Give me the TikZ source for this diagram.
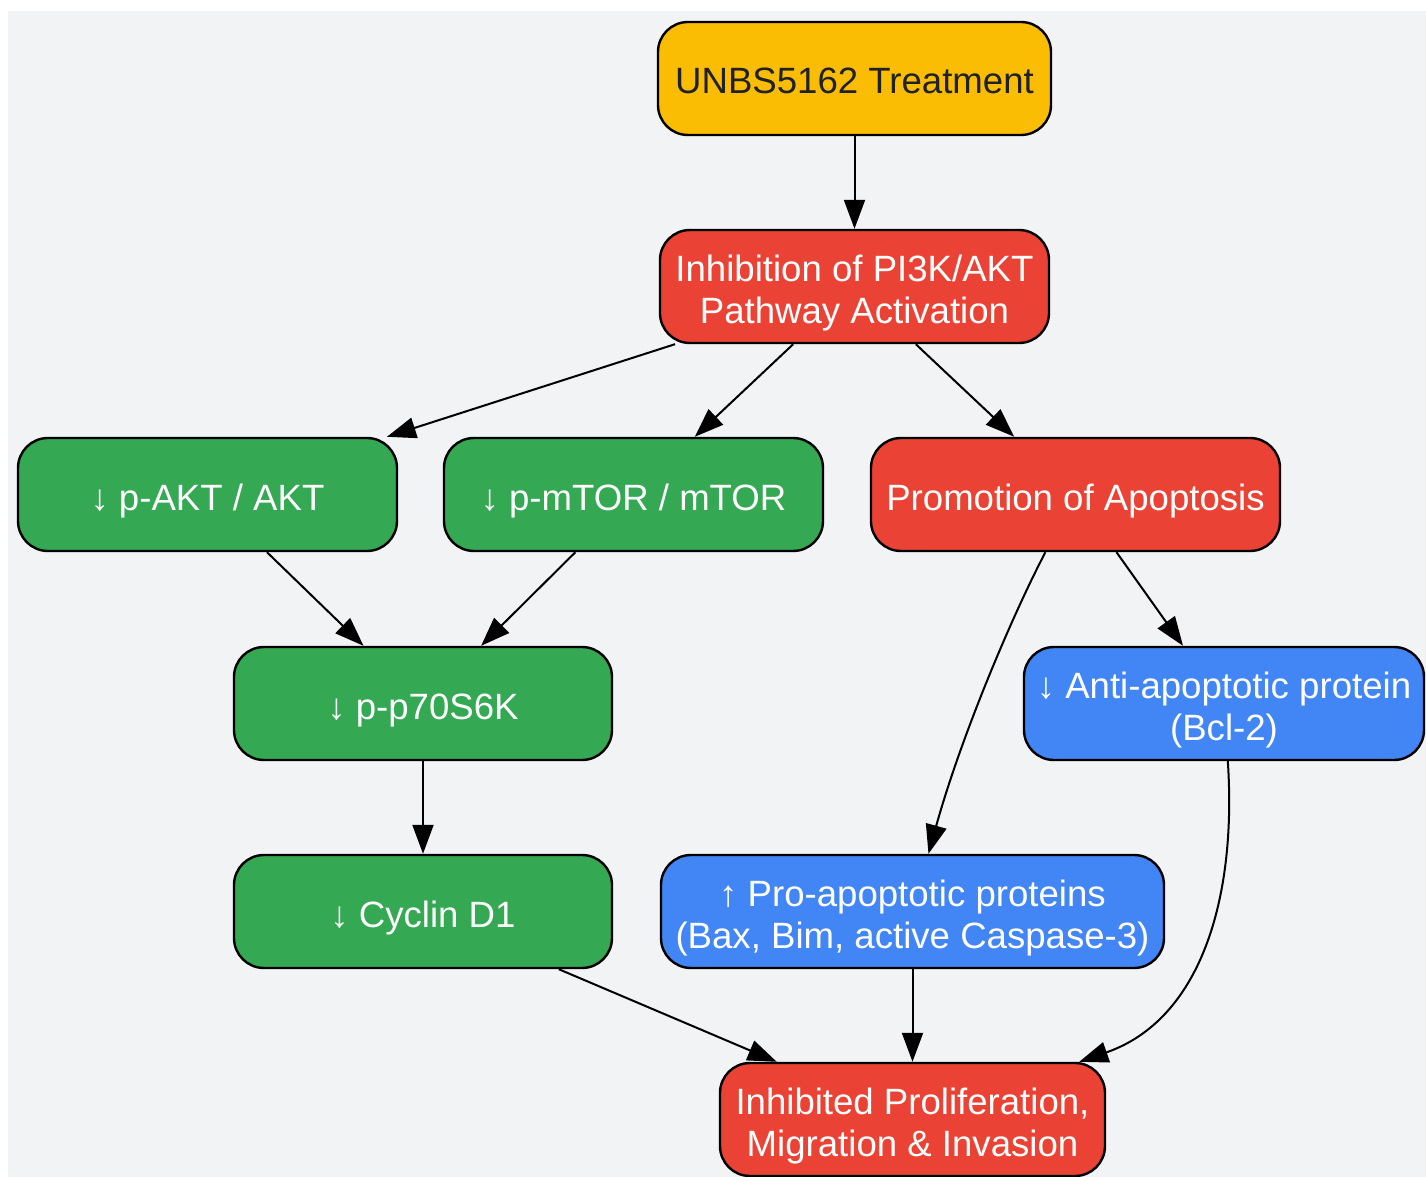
\documentclass[tikz,border=0pt]{standalone}
\usepackage{fontspec}
\setmainfont{Liberation Sans}
\usetikzlibrary{arrows.meta}
\definecolor{bg}{HTML}{F1F3F4}
\definecolor{cyel}{HTML}{FBBC04}
\definecolor{cred}{HTML}{EA4335}
\definecolor{cgrn}{HTML}{34A853}
\definecolor{cblu}{HTML}{4285F4}
\definecolor{ctxt}{HTML}{202124}
\newcommand\sxt{\rule{0pt}{20pt}}
\newcommand\sxb{\rule[-4.5pt]{0pt}{4.5pt}}
\tikzset{
  box/.style={draw=black, line width=1.2pt, rounded corners=15pt, minimum height=56.5pt,
    inner sep=0pt, align=center, text=white, font=\fontsize{18.3}{21}\selectfont},
  conn/.style={line width=1pt, draw=black, -{Triangle[length=14.5pt,width=10.5pt]}}
}
\begin{document}
\begin{tikzpicture}[x=0.5pt, y=-0.5pt]
  \useasboundingbox (0,0) rectangle (1426,1177);
  \fill[bg] (8,11) rectangle (1426,1177);

  \node[box, fill=cyel, text=ctxt, minimum width=196.5pt] (n1) at (854.5,78.5) {\sxt UNBS5162 Treatment\sxb};
  \node[box, fill=cred, minimum width=194.5pt] (n2) at (854.5,286.5) {\sxt Inhibition of PI3K/AKT\\Pathway Activation\sxb};
  \node[box, fill=cgrn, minimum width=189.5pt] (n3) at (207.5,494.5) {\sxt ↓ p-AKT / AKT\sxb};
  \node[box, fill=cgrn, minimum width=189.5pt] (n4) at (633.5,494.5) {\sxt ↓ p-mTOR / mTOR\sxb};
  \node[box, fill=cred, minimum width=204.5pt] (n5) at (1075.5,494.5) {\sxt Promotion of Apoptosis\sxb};
  \node[box, fill=cgrn, minimum width=189pt] (n6) at (423,703.5) {\sxt ↓ p-p70S6K\sxb};
  \node[box, fill=cblu, minimum width=200pt] (n7) at (1224,703.5) {\sxt ↓ Anti-apoptotic protein\\(Bcl-2)\sxb};
  \node[box, fill=cgrn, minimum width=189pt] (n8) at (423,911.5) {\sxt ↓ Cyclin D1\sxb};
  \node[box, fill=cblu, minimum width=251.5pt] (n9) at (912.5,911.5) {\sxt ↑ Pro-apoptotic proteins\\(Bax, Bim, active Caspase-3)\sxb};
  \node[box, fill=cred, minimum width=192.5pt] (n10) at (912.5,1119.5) {\sxt Inhibited Proliferation,\\Migration \& Invasion\sxb};

  \draw[conn] (n1) -- (n2);
  \draw[conn] (n2) -- (n3);
  \draw[conn] (n2) -- (n4);
  \draw[conn] (n2) -- (n5);
  \draw[conn] (n3) -- (n6);
  \draw[conn] (n4) -- (n6);
  \draw[conn] (n5) .. controls (1010,620) and (960,740) .. (n9);
  \draw[conn] (n5) -- (n7);
  \draw[conn] (n6) -- (n8);
  \draw[conn] (n7) .. controls (1237,900) and (1200,1020) .. (n10);
  \draw[conn] (n8) -- (n10);
  \draw[conn] (n9) -- (n10);
\end{tikzpicture}
\end{document}
